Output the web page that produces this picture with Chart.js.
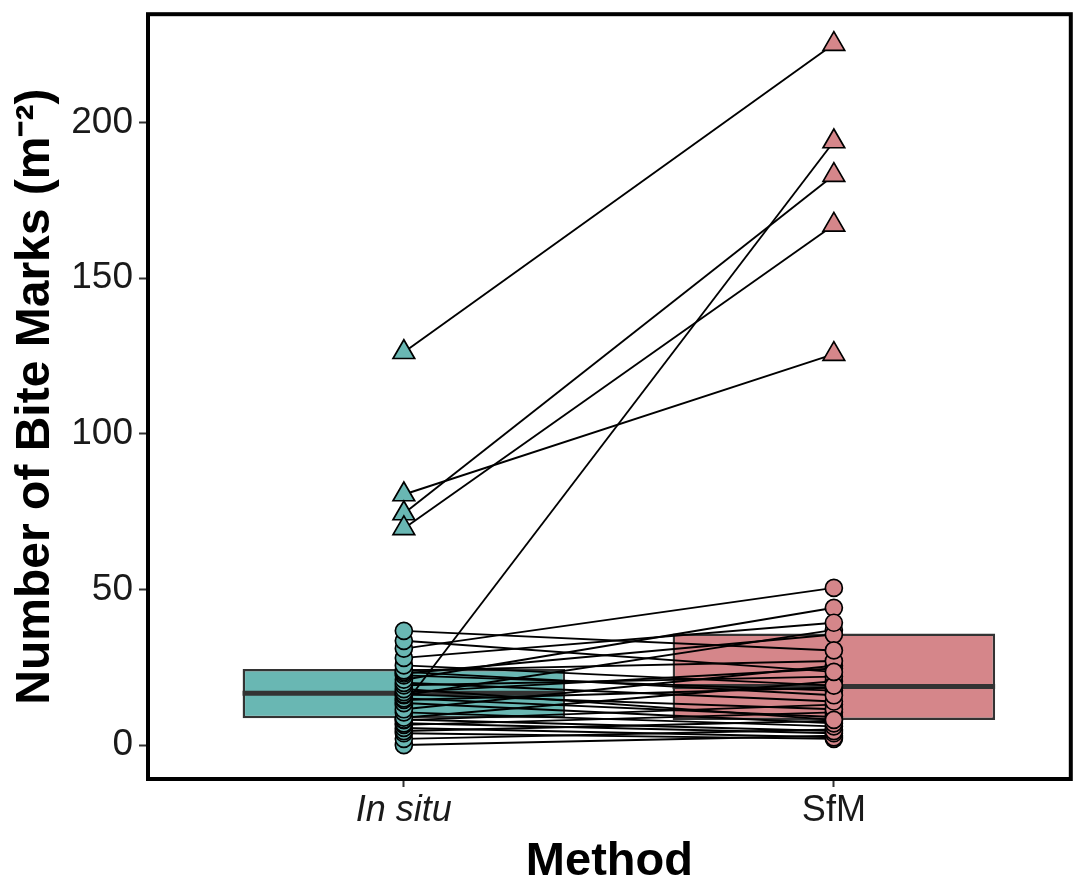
<!DOCTYPE html>
<html>
<head>
<meta charset="utf-8">
<title>Bite marks by method</title>
<script src="https://cdn.jsdelivr.net/npm/chart.js@4.4.1/dist/chart.umd.min.js"></script>
<style>
	html, body { margin: 0; padding: 0; background: #ffffff; }
	#wrap { width: 1085px; height: 888px; }
</style>
</head>
<body>
<div id="wrap"><canvas id="bites" width="1085" height="888"></canvas></div>
<script>
// Survey methods, in axis order.
var methods = [ 'In situ', 'SfM' ];

// Bite marks per m², one entry per plot; insitu[i] and sfm[i] are the same plot.
var insitu = [ 126.2, 80.5, 74.4, 69.6, 12.8,
	0, 2, 3.8, 4.5, 5.5, 6.5, 7, 8, 8.2, 8.8, 10.5, 11.5, 13.5, 14.5, 15, 16,
	16.3, 17, 18, 19.2, 20, 21, 22.4, 23, 23.5, 24, 25.6, 28, 31, 33.5, 36.7 ];
var sfm = [ 225.2, 125.6, 183.1, 167.1, 193.9,
	3, 5, 2, 7.8, 2.5, 10.5, 3.8, 13, 4.5, 20.5, 6, 25.5, 7, 18.5, 9, 37,
	11.5, 24.6, 8.1, 22, 14, 44.1, 17.5, 35.5, 16, 27, 19.1, 39.3, 50.5, 23.5, 30.4 ];

var yTicks = [ 0, 50, 100, 150, 200 ];

var FONT = "'Liberation Sans', Arial, Helvetica, sans-serif";
var FILL = [ '#69b7b3', '#d5868a' ];
var EDGE = '#333333';
var BOX_HALF = 0.375; // box width 0.75 of the spacing between methods
var TRIANGLE_ABOVE = 60;

// Quantile as R's default (type 7).
function quantile( values, p ) {
	var s = values.slice().sort( function ( a, b ) { return a - b; } );
	var h = ( s.length - 1 ) * p;
	var lo = Math.floor( h );
	var hi = Math.min( lo + 1, s.length - 1 );
	return s[ lo ] + ( h - lo ) * ( s[ hi ] - s[ lo ] );
}

var series = [ insitu, sfm ];
var datasets = [];

// Boxes: interquartile range as floating bars.
datasets.push( {
	type: 'bar',
	order: 4,
	data: series.map( function ( vals, i ) {
		return { x: i + 1, y: [ quantile( vals, 0.25 ), quantile( vals, 0.75 ) ] };
	} ),
	backgroundColor: FILL,
	borderColor: EDGE,
	borderWidth: 2.5,
	borderSkipped: false,
	barPercentage: 2 * BOX_HALF,
	categoryPercentage: 1,
} );

// Median bars across each box.
series.forEach( function ( vals, i ) {
	var med = quantile( vals, 0.5 );
	datasets.push( {
		type: 'line',
		order: 3,
		data: [ { x: i + 1 - BOX_HALF, y: med }, { x: i + 1 + BOX_HALF, y: med } ],
		borderColor: EDGE,
		borderWidth: 5,
		pointRadius: 0,
		fill: false,
	} );
} );

// One segment per plot joining its two measurements.
insitu.forEach( function ( v, i ) {
	datasets.push( {
		type: 'line',
		order: 2,
		data: [ { x: 1, y: v }, { x: 2, y: sfm[ i ] } ],
		borderColor: '#000000',
		borderWidth: 1.9,
		pointRadius: 0,
		fill: false,
	} );
} );

// The measurements themselves.
series.forEach( function ( vals, i ) {
	datasets.push( {
		type: 'scatter',
		order: 1,
		data: vals.map( function ( v ) { return { x: i + 1, y: v }; } ),
		pointStyle: function ( ctx ) {
			return ctx.raw && ctx.raw.y > TRIANGLE_ABOVE ? 'triangle' : 'circle';
		},
		pointRadius: function ( ctx ) {
			return ctx.raw && ctx.raw.y > TRIANGLE_ABOVE ? 12.5 : 8.5;
		},
		backgroundColor: FILL[ i ],
		borderColor: '#000000',
		borderWidth: 1.7,
	} );
} );

// Full frame around the panel.
var panelBorder = {
	id: 'panelBorder',
	afterDatasetsDraw: function ( chart ) {
		var a = chart.chartArea;
		var c = chart.ctx;
		c.save();
		c.strokeStyle = '#000000';
		c.lineWidth = 4;
		c.strokeRect( a.left, a.top, a.right - a.left, a.bottom - a.top );
		c.restore();
	},
};

new Chart( document.getElementById( 'bites' ), {
	type: 'scatter',
	data: { datasets: datasets },
	plugins: [ panelBorder ],
	options: {
		responsive: false,
		animation: false,
		devicePixelRatio: 1,
		layout: { padding: { top: 4, right: 9, left: 0, bottom: 0 } },
		plugins: {
			legend: { display: false },
			tooltip: { enabled: false },
		},
		scales: {
			x: {
				type: 'linear',
				min: 0.405,
				max: 2.551,
				offset: false,
				afterBuildTicks: function ( scale ) {
					scale.ticks = methods.map( function ( m, i ) { return { value: i + 1 }; } );
				},
				afterFit: function ( scale ) {
					scale.height = 109;
					scale.paddingLeft = 0;
					scale.paddingRight = 0;
				},
				ticks: {
					autoSkip: false,
					maxRotation: 0,
					padding: 2,
					color: '#1a1a1a',
					font: function ( ctx ) {
						return { family: FONT, size: 36, style: ctx.index === 0 ? 'italic' : 'normal' };
					},
					callback: function ( value ) { return methods[ value - 1 ]; },
				},
				grid: {
					drawOnChartArea: false,
					drawTicks: true,
					tickLength: 8,
					tickWidth: 2,
					tickColor: EDGE,
					offset: false,
				},
				border: { display: false },
				title: {
					display: true,
					text: 'Method',
					color: '#000000',
					font: { family: FONT, size: 47, weight: 'bold', lineHeight: 1 },
					padding: { top: 0, bottom: 2 },
				},
			},
			y: {
				type: 'linear',
				min: -10.9,
				max: 234.8,
				afterBuildTicks: function ( scale ) {
					scale.ticks = yTicks.map( function ( v ) { return { value: v }; } );
				},
				afterFit: function ( scale ) {
					scale.width = 148;
					scale.paddingTop = 0;
					scale.paddingBottom = 0;
				},
				ticks: {
					padding: 6,
					color: '#1a1a1a',
					font: { family: FONT, size: 37 },
				},
				grid: {
					drawOnChartArea: false,
					drawTicks: true,
					tickLength: 9,
					tickWidth: 2,
					tickColor: EDGE,
				},
				border: { display: false },
				title: {
					display: true,
					text: 'Number of Bite Marks (m⁻²)',
					color: '#000000',
					font: { family: FONT, size: 48, weight: 'bold', lineHeight: 1 },
					padding: { top: 12, bottom: 0 },
				},
			},
		},
	},
} );
</script>
</body>
</html>
